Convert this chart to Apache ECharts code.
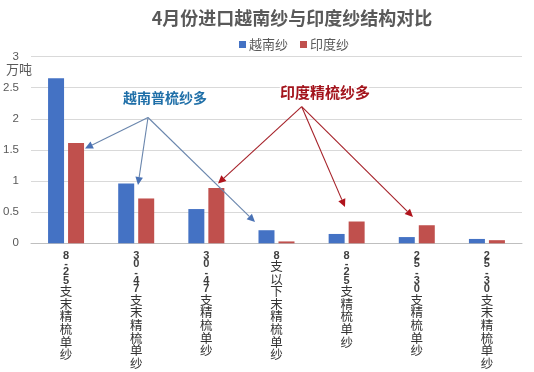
<!DOCTYPE html>
<html>
<head>
<meta charset="utf-8">
<script src="https://cdn.jsdelivr.net/npm/echarts@6/dist/echarts.min.js"></script>
<style>
html,body{margin:0;padding:0;background:#fff;}
#main{width:534px;height:372px;}
</style>
</head>
<body>
<div id="main"></div>
<script>
var categories = ['8-25支末精梳单纱','30-47支末精梳单纱','30-47支精梳单纱','8支以下末精梳单纱','8-25支精梳单纱','25-30支精梳单纱','25-30支末精梳单纱'];
var vietnam = [2.65, 0.96, 0.55, 0.21, 0.15, 0.10, 0.07];
var india = [1.61, 0.72, 0.89, 0.03, 0.35, 0.29, 0.05];
var yTicks = [0, 0.5, 1, 1.5, 2, 2.5, 3];
var seriesNames = ['越南纱', '印度纱'];

var chart = echarts.init(document.getElementById('main'), null, {renderer: 'canvas'});
var FONT = '"Noto Sans CJK SC", "Microsoft YaHei", sans-serif';

function stackLabel(v) {
  var out = [];
  for (var i = 0; i < v.length; i++) {
    var c = v[i];
    if (c === '-') out.push('{h|' + c + '}');
    else if (/[0-9]/.test(c)) out.push('{d|' + c + '}');
    else out.push('{c|' + c + '}');
  }
  return out.join('\n');
}

function arrow(x1, y1, x2, y2, lineColor, headColor) {
  var dx = x2 - x1, dy = y2 - y1;
  var len = Math.sqrt(dx * dx + dy * dy);
  var ux = dx / len, uy = dy / len;
  var hl = 8, hw = 3.8;
  var bx = x2 - ux * hl, by = y2 - uy * hl;
  return [
    {type: 'line', shape: {x1: x1, y1: y1, x2: bx, y2: by}, style: {stroke: lineColor, lineWidth: 1.1}, z: 100},
    {type: 'polygon', shape: {points: [[x2, y2], [bx - uy * hw, by + ux * hw], [bx + uy * hw, by - ux * hw]]}, style: {fill: headColor}, z: 100}
  ];
}

var blueLine = '#6a86ad', blueHead = '#4a72b5';
var redLine = '#a52028', redHead = '#b0141c';
var graphics = [
  {type: 'text', left: 6, top: 63, style: {text: '万吨', fill: '#595959', font: '13px ' + FONT}},
  {type: 'text', x: 123, y: 98, style: {text: '越南普梳纱多', fill: '#1f6fa8', font: 'bold 14px ' + FONT, textVerticalAlign: 'middle', stroke: '#fff', lineWidth: 3}, z: 101},
  {type: 'text', x: 280, y: 92, style: {text: '印度精梳纱多', fill: '#a3141c', font: 'bold 15px ' + FONT, textVerticalAlign: 'middle', stroke: '#fff', lineWidth: 3}, z: 101}
];
graphics = graphics
  .concat(arrow(148, 117.5, 85, 148.5, blueLine, blueHead))
  .concat(arrow(148, 117.5, 138, 185, blueLine, blueHead))
  .concat(arrow(148, 117.5, 255, 222, blueLine, blueHead))
  .concat(arrow(301.7, 106.7, 218, 183.5, redLine, redHead))
  .concat(arrow(301.7, 106.7, 345, 207, redLine, redHead))
  .concat(arrow(301.7, 106.7, 413, 217, redLine, redHead));

var option = {
  backgroundColor: '#fff',
  animation: false,
  title: {
    text: '4月份进口越南纱与印度纱结构对比',
    left: 287, top: 4, textAlign: 'center',
    textStyle: {fontFamily: FONT, fontSize: 18, fontWeight: 'bold', color: '#595959'}
  },
  legend: {
    data: seriesNames,
    left: 234, top: 33,
    itemWidth: 7, itemHeight: 7, itemGap: 12,
    icon: 'rect',
    textStyle: {fontFamily: FONT, fontSize: 13, color: '#595959', padding: [0, 0, 0, -2]}
  },
  grid: {left: 30, right: 12, top: 56.5, bottom: 128.7, containLabel: false},
  xAxis: {
    type: 'category',
    data: categories,
    axisLine: {lineStyle: {color: '#bfbfbf', width: 1}},
    axisTick: {show: false},
    axisLabel: {
      interval: 0,
      margin: 8,
      verticalAlign: 'top',
      formatter: stackLabel,
      rich: {
        d: {fontFamily: '"Liberation Sans", Arial, sans-serif', fontSize: 11, lineHeight: 8.6, color: '#404040', fontWeight: 'bold'},
        h: {fontFamily: '"Liberation Sans", Arial, sans-serif', fontSize: 11, lineHeight: 8, color: '#404040', fontWeight: 'bold'},
        c: {fontFamily: FONT, fontSize: 12.5, lineHeight: 12.6, color: '#333'}
      }
    }
  },
  yAxis: {
    type: 'value',
    min: yTicks[0], max: yTicks[yTicks.length - 1], interval: 0.5,
    axisLine: {show: false},
    axisTick: {show: false},
    splitLine: {lineStyle: {color: '#d9d9d9', width: 1}},
    axisLabel: {margin: 12, color: '#595959', fontSize: 11.5, fontFamily: '"Liberation Sans", Arial, sans-serif'}
  },
  series: [
    {name: seriesNames[0], type: 'bar', data: vietnam, barWidth: 16, barGap: '25%', itemStyle: {color: '#4472c4'}},
    {name: seriesNames[1], type: 'bar', data: india, barWidth: 16, barGap: '25%', itemStyle: {color: '#c0504d'}}
  ],
  graphic: graphics
};
chart.setOption(option);
</script>
</body>
</html>
